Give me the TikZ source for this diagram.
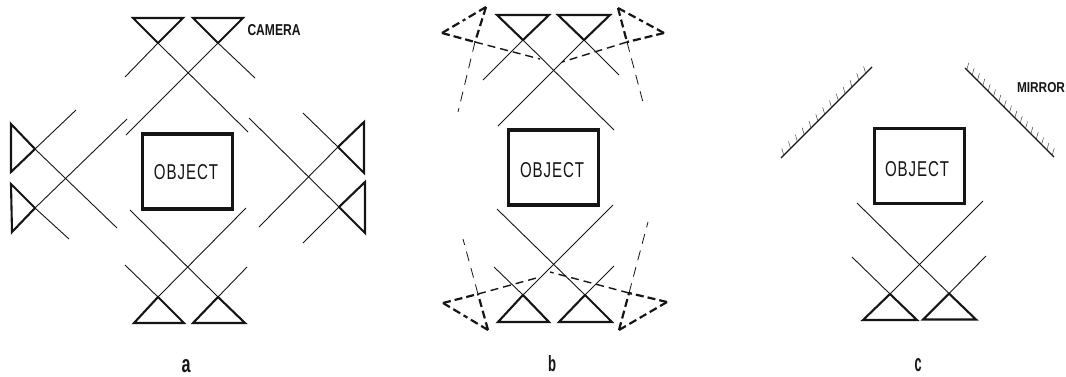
\documentclass[tikz,border=0pt]{standalone}
\usepackage{fontspec}
\usepackage{graphicx}
\setmainfont{Liberation Sans}
\usetikzlibrary{calc}
\definecolor{ink}{HTML}{151515}
\tikzset{
  x=1pt,y=-1pt,
  ray/.style={draw=ink,line width=0.9pt},
  lens/.style={draw=ink,line width=2.1pt,line join=miter},
  ghostray/.style={draw=ink,line width=0.8pt,dash pattern=on 10pt off 7pt},
  ghostlens/.style={draw=ink,line width=2.2pt,dash pattern=on 8pt off 4pt},
  ghostin/.style={draw=ink,line width=1.4pt,dash pattern=on 8pt off 5pt},
  objbox/.style={draw=ink,line width=3.4pt,fill=none,outer sep=0pt,inner sep=0pt,minimum width=90pt,minimum height=75pt},
  lbl/.style={inner sep=0pt,outer sep=0pt,text=ink},
  mirrorline/.style={draw=ink,line width=1.2pt},
  hatch/.style={draw=ink!85,line width=0.45pt}
}
% name, base a, base b, apex, ray end 1, ray end 2
\newcommand{\camera}[6]{%
  \coordinate (#1a) at (#2); \coordinate (#1b) at (#3); \coordinate (#1p) at (#4);
  \coordinate (#1e) at (#5); \coordinate (#1f) at (#6);
  \draw[lens] (#1a) -- (#1b) -- (#1p) -- cycle;
  \draw[ray] (#1p) -- (#1e);
  \draw[ray] (#1p) -- (#1f);
}
\newcommand{\ghost}[6]{%
  \coordinate (#1a) at (#2); \coordinate (#1b) at (#3); \coordinate (#1p) at (#4);
  \coordinate (#1e) at (#5); \coordinate (#1f) at (#6);
  \coordinate (#1m) at ($(#1a)!0.5!(#1b)$);
  \draw[ghostlens] (#1a) -- (#1m);
  \draw[ghostlens] (#1b) -- (#1m);
  \draw[ghostlens] (#1a) -- (#1p);
  \draw[ghostlens] (#1b) -- (#1p);
  \draw[ghostray] (#1p) -- (#1e);
  \draw[ghostin] (#1p) -- (#1f);
}
\newcommand{\objlabel}{\resizebox{64pt}{15pt}{O\kern.6pt B\kern.6pt J\kern.6pt E\kern.6pt C\kern.6pt T}}
\begin{document}
\begin{tikzpicture}
\useasboundingbox (0,0) rectangle (1066,376);
% panel a
\node[objbox] (boxa) at (187.5,171.5) {};
\node[lbl] (txta) at (186,172) {\objlabel};
\camera{at}{133,18}{183,18}{158,43}{125,77}{248,132}
\camera{au}{193,18}{243,18}{218,43}{255,78}{126,135}
\camera{al}{11,124}{11,172}{35,149}{76,110}{117,228}
\camera{am}{11,184}{12,232}{35,208}{69,239}{127,119}
\camera{ar}{364,122}{364,173}{338,147}{303,113}{259,227}
\camera{as}{365,182}{365,233}{339,207}{303,243}{249,118}
\camera{ab}{134,323}{184,323}{158,297}{125,265}{246,208}
\camera{ac}{193,323}{245,323}{218,297}{247,267}{130,210}
\node[lbl] (cam) at (274,30) {\resizebox{53pt}{11pt}{\bfseries CAMERA}};
\node[lbl] (la) at (186,366) {\resizebox{9pt}{13pt}{\bfseries a}};
% panel b
\node[objbox] (boxb) at (553.5,167.5) {};
\node[lbl] (txtb) at (552,170) {\objlabel};
\camera{bt}{497,15}{549,15}{523,40}{483,80}{614,130}
\camera{bu}{558,15}{610,15}{584,40}{619,75}{498,126}
\camera{bb}{498,322}{549,322}{523,295}{494,267}{613,205}
\camera{bc}{559,322}{612,322}{585,295}{614,266}{497,209}
\ghost{gt}{442,33}{486,7}{475,42}{458,112}{540,59}
\ghost{gu}{664,33}{618,8}{627,42}{644,106}{562,62}
\ghost{gb}{443,303}{488,330}{478,294}{463,239}{540,277}
\ghost{gc}{667,302}{619,330}{629,293}{648,222}{550,272}
\node[lbl] (lb) at (552,364) {\resizebox{8pt}{16pt}{\bfseries b}};
% panel c
\node[objbox] (boxc) at (919.5,166) {};
\node[lbl] (txtc) at (917,169) {\objlabel};
\camera{ct}{863,320}{917,320}{890,294}{852,257}{983,201}
\camera{cu}{923,319.5}{976,319.5}{949,293.5}{986,256}{857,203}
\coordinate (m1a) at (781,158); \coordinate (m1b) at (872,67);
\coordinate (m2a) at (965,68); \coordinate (m2b) at (1054,157);
\draw[mirrorline] (m1a) -- (m1b);
\draw[mirrorline] (m2a) -- (m2b);
\foreach \t in {0.03,0.105,...,1.0} \draw[hatch] ($(m1a)!\t!(m1b)$) -- ++(-2,-7);
\foreach \t in {0.02,0.08,...,1.0} \draw[hatch] ($(m2a)!\t!(m2b)$) -- ++(2,-7);
\node[lbl] (mir) at (1041,88) {\resizebox{48pt}{10pt}{\bfseries MIRROR}};
\node[lbl] (lc) at (918,365.5) {\resizebox{7pt}{13pt}{\bfseries c}};
\end{tikzpicture}
\end{document}
